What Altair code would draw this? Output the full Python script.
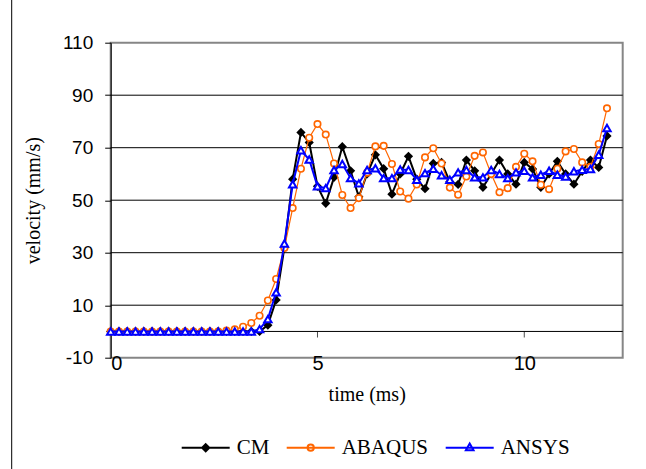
import altair as alt
import pandas as pd

# ---------------- data ----------------
time_ms = [0.0, 0.2, 0.4, 0.6, 0.8, 1.0, 1.2, 1.4, 1.6, 1.8,
           2.0, 2.2, 2.4, 2.6, 2.8, 3.0, 3.2, 3.4, 3.6, 3.8,
           4.0, 4.2, 4.4, 4.6, 4.8, 5.0, 5.2, 5.4, 5.6, 5.8,
           6.0, 6.2, 6.4, 6.6, 6.8, 7.0, 7.2, 7.4, 7.6, 7.8,
           8.0, 8.2, 8.4, 8.6, 8.8, 9.0, 9.2, 9.4, 9.6, 9.8,
           10.0, 10.2, 10.4, 10.6, 10.8, 11.0, 11.2, 11.4, 11.6, 11.8,
           12.0]

cm = [0, 0, 0, 0, 0, 0, 0, 0, 0, 0,
      0, 0, 0, 0, 0, 0, 0, 0, 0, 2.4,
      12, 32, 58, 75.8, 72, 55.3, 48.8, 58.7, 70.4, 61.2,
      51.3, 60, 67.3, 62, 52.3, 60, 66.7, 58, 54.4, 64,
      64.4, 57, 56, 65.3, 61.2, 54.9, 60, 65.3, 60, 56.1,
      64.4, 61.9, 54.9, 60, 64.8, 60, 56.1, 61, 65.3, 62.5,
      74.5]

abaqus = [0, 0, 0, 0, 0, 0, 0, 0, 0, 0,
          0, 0, 0, 0, 0.3, 0.8, 1.8, 3.2, 6, 11.8,
          20, 31.8, 47, 62, 73.8, 79, 75, 64, 52, 47,
          50.8, 60.5, 70.5, 70.7, 63.8, 53.3, 50.6, 56, 66.3, 69.8,
          64, 54.8, 52.1, 59, 66.9, 68.2, 60, 53, 54.6, 62.7,
          67.7, 64.8, 55.9, 54.2, 62, 68.6, 69.5, 64.4, 62.7, 71.4,
          85]

ansys = [0, 0, 0, 0, 0, 0, 0, 0, 0, 0,
         0, 0, 0, 0, 0, 0, 0, 0, 0.9, 4.7,
         14.9, 33.5, 56.1, 69, 65.5, 55.3, 54.6, 61.5, 63.8, 58.4,
         56.4, 61.5, 62.2, 58.4, 58.4, 61.7, 61.5, 57.8, 60.3, 62,
         59.5, 57.8, 60.6, 61.5, 58.7, 58.7, 61.5, 60, 58.4, 60.6,
         61.2, 58.7, 59.7, 61.2, 59.7, 59, 61, 61.6, 61.9, 67.3,
         77.5]

series_names = ["CM", "ABAQUS", "ANSYS"]
series_colors = ["#000000", "#FF6600", "#0000FF"]

y_ticks = [-10, 10, 30, 50, 70, 90, 110]
grid_values = [10, 30, 50, 70, 90]
x_ticks = [0, 5, 10]
zero_ticks = [5, 10]

# ---------------- tables ----------------
df = pd.DataFrame({
    "time": time_ms * 3,
    "velocity": cm + abaqus + ansys,
    "series": ["CM"] * len(cm) + ["ABAQUS"] * len(abaqus) + ["ANSYS"] * len(ansys),
})
grid_df = pd.DataFrame({"v": grid_values})
zero_df = pd.DataFrame({"v": [0]})
tick_df = pd.DataFrame({"t": zero_ticks, "v": [0] * len(zero_ticks)})

# ---------------- scales / axes ----------------
W, H = 512, 315
xscale = alt.Scale(domain=[0, 12.38], nice=False, zero=False)
yscale = alt.Scale(domain=[-10, 110], nice=False, zero=False)

xaxis = alt.Axis(values=x_ticks, title="time (ms)", domain=False, ticks=False, tickSize=0,
                 grid=False, labelPadding=-4, labelFont="Liberation Sans", labelFontSize=20,
                 labelColor="black", titleFont="Liberation Serif", titleFontSize=20,
                 titleFontWeight="normal", titleColor="black", titleY=43,
                 titleBaseline="alphabetic", labelExpr="'' + datum.value")
yaxis = alt.Axis(values=y_ticks, title="velocity (mm/s)", grid=False, domainColor="black",
                 domainWidth=1, tickColor="black", tickSize=6, labelPadding=12,
                 labelFont="Liberation Sans", labelFontSize=19, labelColor="black",
                 titleFont="Liberation Serif", titleFontSize=20, titleFontWeight="normal",
                 titleColor="black", titleX=-67, titleBaseline="bottom",
                 labelExpr="'' + datum.value")

X = lambda f: alt.X(f, scale=xscale, axis=xaxis)
Y = lambda f: alt.Y(f, scale=yscale, axis=yaxis)

base = alt.Chart(df)

frame = alt.Chart(zero_df).mark_rule(color="black", strokeWidth=1).encode(
    x=alt.value(-99), y=alt.value(-60), y2=alt.value(480))

grid = alt.Chart(grid_df).mark_rule(color="black", strokeWidth=1).encode(y=Y("v:Q"))
zero_line = alt.Chart(zero_df).mark_rule(color="black", strokeWidth=1).encode(y=Y("v:Q"))
zero_tk = alt.Chart(tick_df).mark_tick(orient="vertical", size=6, thickness=1,
                                        color="black", yOffset=3).encode(
    x=X("t:Q"), y=Y("v:Q"))

layers = [frame, grid, zero_line, zero_tk]

styles = {
    "CM": dict(line_w=2, shape="diamond", size=85, fill="#000000", stroke_w=0),
    "ABAQUS": dict(line_w=1.2, shape="circle", size=42, fill="#FFFFFF", stroke_w=1.6),
    "ANSYS": dict(line_w=2, shape="triangle-up", size=55, fill="#FFFFFF", stroke_w=2),
}

for name, color in zip(series_names, series_colors):
    st = styles[name]
    sub = base.transform_filter(alt.datum.series == name)
    line = sub.mark_line(color=color, strokeWidth=st["line_w"]).encode(
        x=X("time:Q"), y=Y("velocity:Q"))
    pts = sub.mark_point(shape=st["shape"], size=st["size"], fill=st["fill"],
                         stroke=color, strokeWidth=st["stroke_w"], opacity=1,
                         filled=False).encode(x=X("time:Q"), y=Y("velocity:Q"))
    layers += [line, pts]

legend_paths = [
    "M-1,0H1M0,-0.15L0.15,0L0,0.15L-0.15,0ZM0,-0.07L0.07,0L0,0.07L-0.07,0Z",
    "M-1,0H1M0.13,0A0.13,0.13 0 1,1 -0.13,0A0.13,0.13 0 1,1 0.13,0Z",
    "M-1,0H1M0,-0.17L0.16,0.11L-0.16,0.11Z",
]

legend = alt.Legend(title=None, orient="none", legendX=70, legendY=380,
                    direction="horizontal", labelFont="Liberation Serif",
                    labelFontSize=21, labelColor="black", labelOffset=6,
                    columnPadding=13, symbolSize=2304, symbolStrokeWidth=2)

leg = base.transform_filter("false").mark_point(filled=False, size=2304, strokeWidth=2,
                                                opacity=1).encode(
    color=alt.Color("series:N", scale=alt.Scale(domain=series_names, range=series_colors),
                    legend=legend),
    shape=alt.Shape("series:N", scale=alt.Scale(domain=series_names, range=legend_paths),
                    legend=legend),
)
layers.append(leg)

chart = alt.layer(*layers).properties(
    width=W, height=H,
    autosize=alt.AutoSizeParams(type="none"),
    padding={"left": 110.7, "top": 42.7, "right": 23.3, "bottom": 111.3},
    background="white",
).configure_view(stroke="#868686", strokeWidth=2)

chart.save("out.html", embed_options={"renderer": "svg", "actions": False})
